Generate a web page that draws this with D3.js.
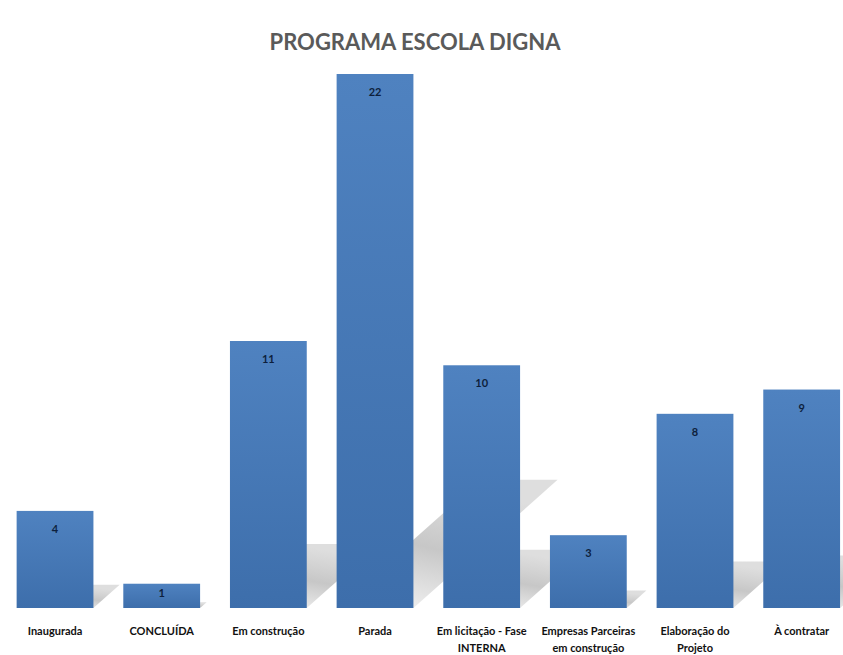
<!DOCTYPE html>
<html>
<head>
<meta charset="utf-8">
<script src="https://cdn.jsdelivr.net/npm/d3@7"></script>
<style>
  body { margin: 0; background: #fff; }
  svg { display: block; }
</style>
</head>
<body>
<div id="root"></div>
<script>
// chart data
const title = 'PROGRAMA ESCOLA DIGNA';
const categories = [
    'Inaugurada',
    'CONCLUÍDA',
    'Em construção',
    'Parada',
    'Em licitação - Fase\nINTERNA',
    'Empresas Parceiras\nem construção',
    'Elaboração do\nProjeto',
    'À contratar'
];
const values = [4, 1, 11, 22, 10, 3, 8, 9];

const width = 843;
const height = 655;
const base = 608;
const font = 'Lato, "Open Sans", sans-serif';

const svg = d3.select('#root').append('svg')
    .attr('width', width)
    .attr('height', height);

const defs = svg.append('defs');

// bar fill, slightly lighter at the top
const barGrad = defs.append('linearGradient')
    .attr('id', 'barGrad')
    .attr('x1', 0).attr('y1', 0).attr('x2', 0).attr('y2', 1);
barGrad.append('stop').attr('offset', '0%').attr('stop-color', '#4f82c0');
barGrad.append('stop').attr('offset', '100%').attr('stop-color', '#3d6eab');

// shadow: pale at the foot of the bar, greyer further away
const shadowGrad = defs.append('linearGradient')
    .attr('id', 'shadowGrad')
    .attr('x1', 0).attr('y1', 1).attr('x2', 0.4).attr('y2', 0);
shadowGrad.append('stop').attr('offset', '0%').attr('stop-color', '#c4c4c4').attr('stop-opacity', 0.15);
shadowGrad.append('stop').attr('offset', '55%').attr('stop-color', '#bdbdbd').attr('stop-opacity', 0.85);
shadowGrad.append('stop').attr('offset', '100%').attr('stop-color', '#c8c8c8').attr('stop-opacity', 0.6);

const x = d3.scaleBand()
    .domain(categories)
    .range([1.7, 855])
    .paddingInner(0.28)
    .paddingOuter(0.14);

const y = d3.scaleLinear()
    .domain([0, 22])
    .range([base, 74]);

// title
svg.append('text')
    .attr('x', 415)
    .attr('y', 50)
    .attr('text-anchor', 'middle')
    .style('font-family', font)
    .style('font-weight', 'bold')
    .style('font-size', '22px')
    .style('fill', '#5a5a5a')
    .text(title);

// perspective shadows behind the bars
svg.append('g').selectAll('path')
    .data(values)
    .enter().append('path')
    .attr('fill', 'url(#shadowGrad)')
    .attr('d', (d, i) => {
        const x0 = x(categories[i]);
        const x1 = x0 + x.bandwidth();
        const h = base - y(d);
        const dx = h * 0.27, dy = h * 0.24;
        return 'M' + x0 + ',' + base
            + 'L' + x1 + ',' + base
            + 'L' + (x1 + dx) + ',' + (base - dy)
            + 'L' + (x0 + dx) + ',' + (base - dy) + 'Z';
    });

// bars
svg.append('g').selectAll('rect')
    .data(values)
    .enter().append('rect')
    .attr('x', (d, i) => x(categories[i]))
    .attr('y', d => y(d))
    .attr('width', x.bandwidth())
    .attr('height', d => base - y(d))
    .attr('fill', 'url(#barGrad)');

// value labels inside the top of each bar
svg.append('g').selectAll('text')
    .data(values)
    .enter().append('text')
    .attr('x', (d, i) => x(categories[i]) + x.bandwidth() / 2)
    .attr('y', d => Math.min(y(d) + 22, (y(d) + base) / 2 + 1))
    .attr('text-anchor', 'middle')
    .style('font-family', font)
    .style('font-weight', 'bold')
    .style('font-size', '11px')
    .style('fill', '#0d1f3c')
    .text(d => d);

// category labels
const labels = svg.append('g').selectAll('text')
    .data(categories)
    .enter().append('text')
    .attr('x', d => x(d) + x.bandwidth() / 2)
    .attr('y', 635)
    .attr('text-anchor', 'middle')
    .style('font-family', font)
    .style('font-weight', 'bold')
    .style('font-size', '11px')
    .style('fill', '#111');

labels.each(function(d) {
    const t = d3.select(this);
    d.split('\n').forEach((line, k) => {
        t.append('tspan')
            .attr('x', x(d) + x.bandwidth() / 2)
            .attr('dy', k === 0 ? 0 : 17)
            .text(line);
    });
});
</script>
</body>
</html>
